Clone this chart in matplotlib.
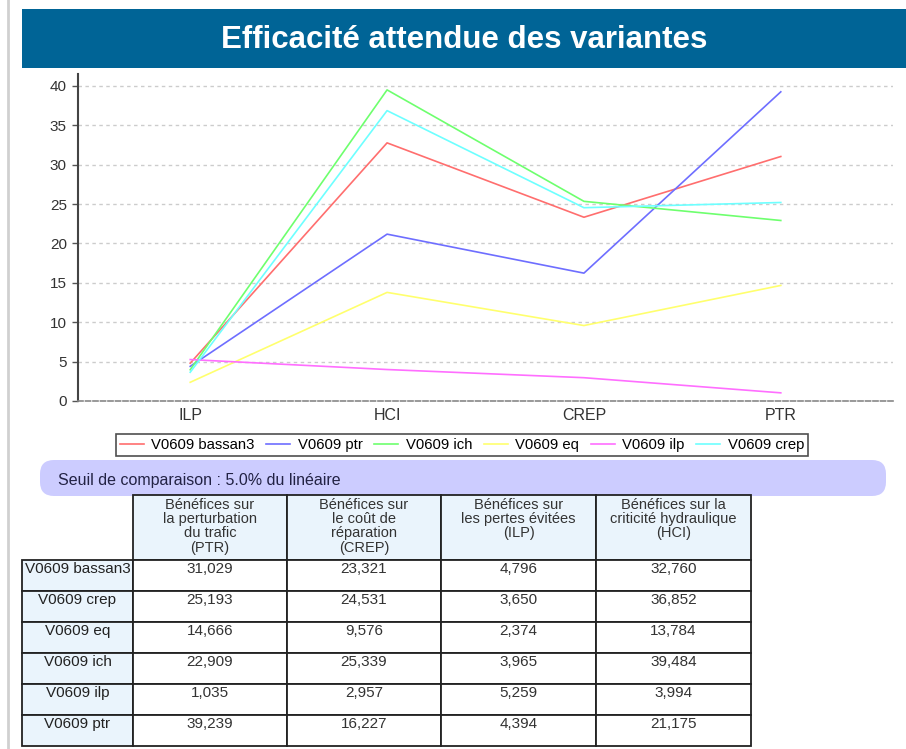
import matplotlib
matplotlib.use("Agg")
import matplotlib.pyplot as plt
from matplotlib.patches import Rectangle, FancyBboxPatch

plt.rcParams['font.family'] = ['Liberation Sans', 'DejaVu Sans']

# benefit scores per variant, one list per criterion (table row order)
variants = ['V0609 bassan3', 'V0609 crep', 'V0609 eq', 'V0609 ich', 'V0609 ilp', 'V0609 ptr']
ptr_benef = [31.029, 25.193, 14.666, 22.909, 1.035, 39.239]
crep_benef = [23.321, 24.531, 9.576, 25.339, 2.957, 16.227]
ilp_benef = [4.796, 3.650, 2.374, 3.965, 5.259, 4.394]
hci_benef = [32.760, 36.852, 13.784, 39.484, 3.994, 21.175]

categories = ['ILP', 'HCI', 'CREP', 'PTR']
legend_order = ['V0609 bassan3', 'V0609 ptr', 'V0609 ich', 'V0609 eq', 'V0609 ilp', 'V0609 crep']
line_colors = ['#ff6e6e', '#6e6eff', '#6eff6e', '#ffff6e', '#ff6eff', '#6effff']

headers = ['Bénéfices sur\nla perturbation\ndu trafic\n(PTR)',
           'Bénéfices sur\nle coût de\nréparation\n(CREP)',
           'Bénéfices sur\nles pertes évitées\n(ILP)',
           'Bénéfices sur la\ncriticité hydraulique\n(HCI)']

W, H = 906, 749
fig = plt.figure(figsize=(W / 100, H / 100), dpi=100)

# pixel-space overlay for the banner, band and table
ov = fig.add_axes([0, 0, 1, 1])
ov.set_xlim(0, W)
ov.set_ylim(H, 0)
ov.axis('off')

ov.plot([8, 8], [0, H], color='#d0d0d0', lw=2)
ov.add_patch(Rectangle((22, 9), W - 22, 59, facecolor='#006496', edgecolor='none'))
ov.text(464, 40, 'Efficacité attendue des variantes', color='white', fontsize=22.5,
        fontweight='bold', ha='center', va='center')

ov.add_patch(FancyBboxPatch((40, 460), 846, 36, boxstyle='round,pad=0,rounding_size=14',
                            facecolor='#ccccff', edgecolor='none'))
ov.text(58, 480, 'Seuil de comparaison : 5.0% du linéaire', fontsize=11.5,
        color='#222244', ha='left', va='center')

# table
col_x = [22, 133, 287, 441, 596, 751]
head_top, head_bot = 495, 560
row_h = 31
columns = [ptr_benef, crep_benef, ilp_benef, hci_benef]

for j in range(4):
    x0, x1 = col_x[j + 1], col_x[j + 2]
    ov.add_patch(Rectangle((x0, head_top), x1 - x0, head_bot - head_top,
                           facecolor='#eaf4fc', edgecolor='#222222', lw=1.3))
    ov.text((x0 + x1) / 2, head_top + 3, headers[j], fontsize=10.5, color='#333333',
            ha='center', va='top', linespacing=1.02)

for i, name in enumerate(variants):
    y0 = head_bot + i * row_h
    ov.add_patch(Rectangle((col_x[0], y0), col_x[1] - col_x[0], row_h,
                           facecolor='#eaf4fc', edgecolor='#222222', lw=1.3))
    ov.text((col_x[0] + col_x[1]) / 2, y0 + 2, name, fontsize=11, color='#222222',
            ha='center', va='top')
    for j, vals in enumerate(columns):
        x0, x1 = col_x[j + 1], col_x[j + 2]
        ov.add_patch(Rectangle((x0, y0), x1 - x0, row_h,
                               facecolor='white', edgecolor='#222222', lw=1.3))
        ov.text((x0 + x1) / 2, y0 + 2, f"{vals[i]:.3f}".replace('.', ','),
                fontsize=11, color='#333333', ha='center', va='top')

# line chart
ax = fig.add_axes([78 / W, 1 - 401 / H, (893 - 78) / W, (401 - 74) / H])
ax.patch.set_alpha(0)
x = range(len(categories))
handles = []
for name, color in zip(legend_order, line_colors):
    k = variants.index(name)
    ys = [ilp_benef[k], hci_benef[k], crep_benef[k], ptr_benef[k]]
    ln, = ax.plot(x, ys, color=color, lw=1.2, label=name)
    handles.append(ln)

ax.set_xlim(-0.57, 3.57)
ax.set_ylim(0, 41.5)
ax.set_yticks(range(0, 41, 5))
ax.set_xticks(list(x))
ax.set_xticklabels(categories)
ax.tick_params(axis='x', length=0, pad=5, labelsize=11.5, labelcolor='#333333')
ax.tick_params(axis='y', length=4, width=1, color='#555555', pad=4, labelsize=11,
               labelcolor='#333333')
ax.grid(axis='y', color='#cccccc', linestyle=(0, (2.5, 2.5)), lw=1)
ax.spines['top'].set_visible(False)
ax.spines['right'].set_visible(False)
ax.spines['left'].set_color('#444444')
ax.spines['left'].set_linewidth(1.5)
ax.spines['bottom'].set_color('#888888')
ax.spines['bottom'].set_linestyle((0, (3, 1.5)))
ax.spines['bottom'].set_linewidth(1.2)

leg = fig.legend(handles=handles, ncol=6, loc='center', bbox_to_anchor=(462 / W, 1 - 445 / H),
                 fontsize=10.7, frameon=True, fancybox=False, edgecolor='#222222',
                 handlelength=1.6, handletextpad=0.5, columnspacing=0.8,
                 borderpad=0.25)
leg.get_frame().set_linewidth(1.2)

fig.savefig('out.png', dpi=100)
